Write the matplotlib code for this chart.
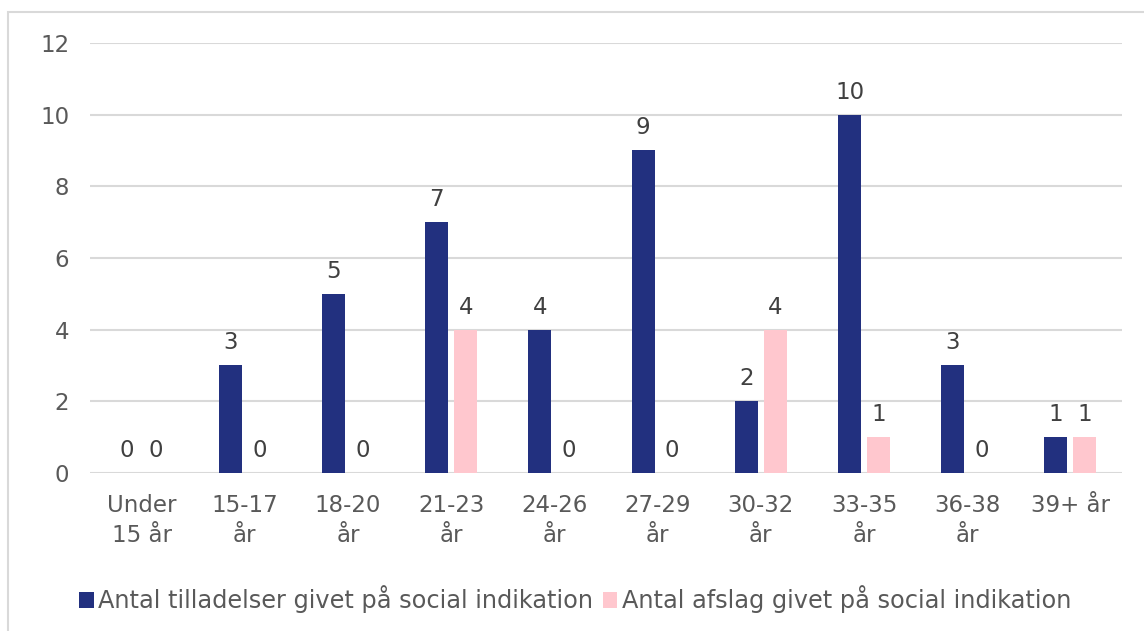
import numpy as np
import matplotlib.pyplot as plt
from matplotlib.patches import Rectangle

# data
categories = ['Under\n15 år', '15-17\når', '18-20\når', '21-23\når', '24-26\når',
              '27-29\når', '30-32\når', '33-35\når', '36-38\når', '39+ år']
tilladelser = [0, 3, 5, 7, 4, 9, 2, 10, 3, 1]
afslag = [0, 0, 0, 4, 0, 0, 4, 1, 0, 1]
series_names = ['Antal tilladelser givet på social indikation',
                'Antal afslag givet på social indikation']

blue = '#22307F'
pink = '#FFC7CE'
txt = '#595959'
grid = '#D9D9D9'
fs = 16.5

plt.rcParams['font.family'] = ['DejaVu Sans']

fig = plt.figure(figsize=(11.44, 6.31), dpi=100)
ax = fig.add_axes([0.0787, 0.2504, 0.9021, 0.6815])

x = np.arange(len(categories))
w = 0.223
off = 0.14

b1 = ax.bar(x - off, tilladelser, w, color=blue, label=series_names[0], zorder=3)
b2 = ax.bar(x + off, afslag, w, color=pink, label=series_names[1], zorder=3)

#value labels over every bar, zeros too
for bars in (b1, b2):
    ax.bar_label(bars, padding=8, fontsize=fs, color='#404040')

ax.set_xlim(-0.5, len(categories) - 0.5)
ax.set_ylim(0, 12)
ax.set_yticks(range(0, 13, 2))
ax.set_xticks(x)
ax.set_xticklabels(categories, fontsize=fs, color=txt, linespacing=1.4)
ax.tick_params(axis='y', labelsize=fs, labelcolor=txt, length=0, pad=15)
ax.tick_params(axis='x', length=0, pad=15)
ax.yaxis.grid(True, color=grid, linewidth=1.5, zorder=0)
ax.set_axisbelow(True)
for s in ax.spines.values():
    s.set_visible(False)

fig.legend(handles=[b1, b2], loc='center', bbox_to_anchor=(0.503, 0.05), ncol=2,
           frameon=False, fontsize=17.3, handlelength=0.6, handleheight=0.6,
           handletextpad=0.2, columnspacing=0.4, labelcolor=txt)

# light frame around the chart
fig.patches.append(Rectangle((8 / 1144, -0.1), 1.2, 1 - 12 / 631 + 0.1,
                             transform=fig.transFigure, fill=False,
                             edgecolor='#D9D9D9', linewidth=1.5))

fig.savefig('out.png', dpi=100)
